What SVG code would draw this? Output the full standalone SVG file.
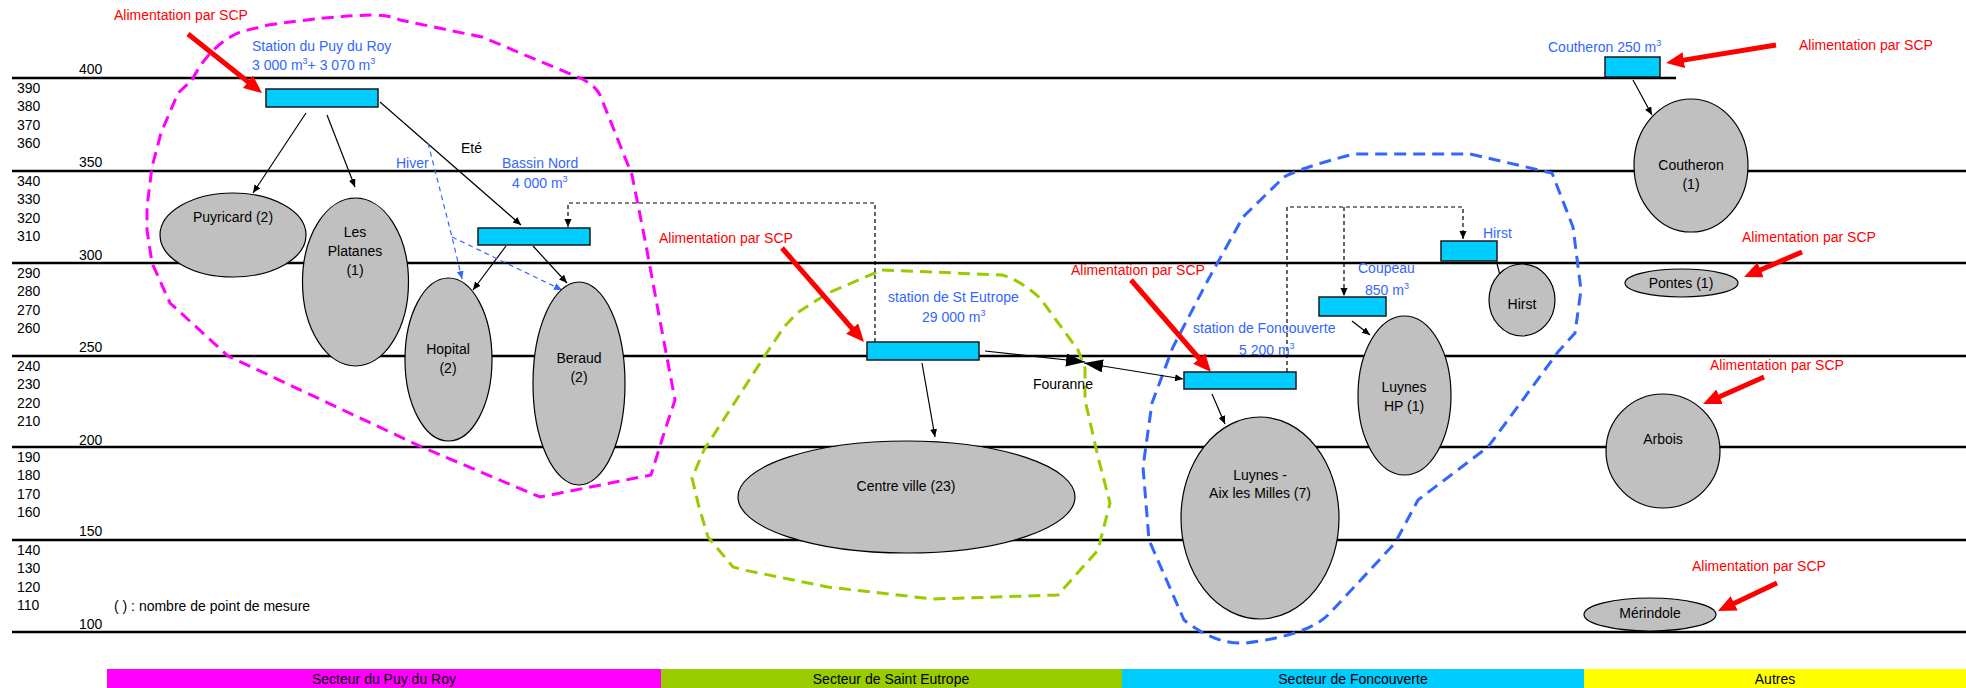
<svg xmlns="http://www.w3.org/2000/svg" width="1966" height="688" viewBox="0 0 1966 688">
<style>
text { font-family: "Liberation Sans", Arial, sans-serif; font-size: 14px; fill: #000; }
.lbl { fill: #3366FF; }
.red { fill: #FF0000; }
.c { text-anchor: middle; }
.lvl { stroke: #000; stroke-width: 2.5; }
ellipse.n { fill: #C0C0C0; stroke: #000; stroke-width: 1.2; }
.box { fill: #00CCFF; stroke: #1a1a1a; stroke-width: 1.5; }
.arr { stroke: #000; stroke-width: 1.2; fill: none; marker-end: url(#ah); }
.darr { stroke: #000; stroke-width: 1.2; fill: none; stroke-dasharray: 4 3; }
.hiver { stroke: #3366FF; stroke-width: 1.2; fill: none; stroke-dasharray: 5 4; marker-end: url(#ahb); }
.scp { stroke: #FF0000; stroke-width: 5; fill: none; marker-end: url(#rh); }
.zone { fill: none; stroke-width: 3; stroke-dasharray: 12 7; }
</style>
<defs>
<marker id="ah" markerUnits="userSpaceOnUse" markerWidth="9" markerHeight="8" refX="8" refY="3.5" orient="auto"><path d="M0,0 L8,3.5 L0,7 z" fill="#000"/></marker>
<marker id="ahb" markerUnits="userSpaceOnUse" markerWidth="9" markerHeight="8" refX="8" refY="3.5" orient="auto"><path d="M0,0 L8,3.5 L0,7 z" fill="#3366FF"/></marker>
<marker id="big" markerUnits="userSpaceOnUse" markerWidth="20" markerHeight="14" refX="19" refY="6.5" orient="auto-start-reverse"><path d="M0,0 L19,6.5 L0,13 z" fill="#000"/></marker>
<marker id="rh" markerUnits="userSpaceOnUse" markerWidth="19" markerHeight="17" refX="8" refY="8" orient="auto"><path d="M0,0 L18,8 L0,16 z" fill="#FF0000"/></marker>
</defs>
<rect width="1966" height="688" fill="#fff"/>

<g id="levels">
<line class="lvl" x1="12" y1="78" x2="1676" y2="78"/>
<line class="lvl" x1="12" y1="171" x2="1966" y2="171"/>
<line class="lvl" x1="12" y1="263" x2="1966" y2="263"/>
<line class="lvl" x1="12" y1="356" x2="1966" y2="356"/>
<line class="lvl" x1="12" y1="447" x2="1966" y2="447"/>
<line class="lvl" x1="12" y1="540" x2="1966" y2="540"/>
<line class="lvl" x1="12" y1="632" x2="1966" y2="632"/>
<text x="79" y="74">400</text>
<text x="17" y="93">390</text><text x="17" y="111">380</text><text x="17" y="130">370</text><text x="17" y="148">360</text><text x="79" y="167">350</text>
<text x="17" y="186">340</text><text x="17" y="204">330</text><text x="17" y="223">320</text><text x="17" y="241">310</text><text x="79" y="260">300</text>
<text x="17" y="278">290</text><text x="17" y="296">280</text><text x="17" y="315">270</text><text x="17" y="333">260</text><text x="79" y="352">250</text>
<text x="17" y="371">240</text><text x="17" y="389">230</text><text x="17" y="408">220</text><text x="17" y="426">210</text><text x="79" y="445">200</text>
<text x="17" y="462">190</text><text x="17" y="480">180</text><text x="17" y="499">170</text><text x="17" y="517">160</text><text x="79" y="536">150</text>
<text x="17" y="555">140</text><text x="17" y="573">130</text><text x="17" y="592">120</text><text x="17" y="610">110</text><text x="79" y="629">100</text>
<text x="114" y="611">( ) : nombre de point de mesure</text>
</g>

<g id="zones">
<path class="zone" stroke="#FF00FF" d="M192,80 Q210,45 240,32 L268,25 Q330,16 372,15 Q390,15 400,20 L482,37 L580,78 Q595,85 600,95 L632,175 L645,240 L658,310 L675,400 L665,430 L651,475 L540,497 L424,448 L228,356 L170,303 L152,263 L147,230 L147,207 L152,167 L161,133 L178,93 Z"/>
<path class="zone" stroke="#99CC00" d="M882,270 L1002,275 Q1020,280 1040,298 L1078,350 L1085,368 L1085,400 L1098,457 L1110,503 L1098,550 L1058,595 L933,599 L828,587 L744,570 L733,567 L708,537 L699,507 L692,478 L704,450 L764,357 L784,327 L797,313 L828,293 Z"/>
<path class="zone" stroke="#3366FF" d="M1284,177 Q1300,168 1354,154 L1470,154 L1552,173 L1573,227 L1581,290 L1575,333 L1558,352 L1488,447 L1418,500 L1395,543 L1330,613 Q1310,635 1246,643 Q1215,645 1184,620 L1149,540 L1143,467 L1152,403 L1173,347 L1208,280 L1243,217 Z"/>
</g>

<g id="connectors">
<line class="arr" x1="306" y1="113" x2="253" y2="193"/>
<line class="arr" x1="327" y1="115" x2="355" y2="187"/>
<line class="arr" x1="380" y1="102" x2="521" y2="225"/>
<line class="arr" x1="506" y1="246" x2="473" y2="290"/>
<line class="arr" x1="533" y1="246" x2="567" y2="283"/>
<line class="arr" x1="922" y1="363" x2="935" y2="437"/>
<line class="arr" x1="1212" y1="394" x2="1225" y2="424"/>
<line class="arr" x1="1352" y1="321" x2="1370" y2="335"/>
<line class="arr" x1="1494" y1="252" x2="1502" y2="283"/>
<line class="arr" x1="1633" y1="80" x2="1652" y2="115"/>
<path class="darr" d="M875,342 V203 H568 V227" marker-end="url(#ah)"/>
<path class="darr" d="M1287,372 V207 H1463 V239" marker-end="url(#ah)"/>
<path class="darr" d="M1344,207 V296" marker-end="url(#ah)"/>
<path class="hiver" d="M428,143 L452,237 L462,279"/>
<path class="hiver" d="M452,237 L562,290"/>
<line x1="985" y1="351" x2="1085" y2="362" stroke="#000" stroke-width="1.2" marker-end="url(#big)"/>
<line x1="1084" y1="363" x2="1183" y2="379" stroke="#000" stroke-width="1.2" marker-start="url(#big)" marker-end="url(#ah)"/>
<text x="1033" y="389">Fouranne</text>
<text x="461" y="153">Eté</text>
<text class="lbl" x="396" y="168">Hiver</text>
</g>

<g id="station-puy-du-roy">
<rect class="box" x="266" y="89" width="112" height="18"/>
<text class="lbl" x="252" y="51">Station du Puy du Roy</text>
<text class="lbl" x="252" y="70">3 000 m<tspan dy="-6" font-size="9">3</tspan><tspan dy="6">+ 3 070 m</tspan><tspan dy="-6" font-size="9">3</tspan></text>
</g>
<g id="bassin-nord">
<rect class="box" x="478" y="228" width="112" height="17"/>
<text class="lbl" x="502" y="168">Bassin Nord</text>
<text class="lbl" x="512" y="188">4 000 m<tspan dy="-6" font-size="9">3</tspan></text>
</g>
<g id="station-st-eutrope">
<rect class="box" x="867" y="342" width="112" height="18"/>
<text class="lbl" x="888" y="302">station de St Eutrope</text>
<text class="lbl" x="922" y="322">29 000 m<tspan dy="-6" font-size="9">3</tspan></text>
</g>
<g id="station-foncouverte">
<rect class="box" x="1184" y="372" width="112" height="17"/>
<text class="lbl" x="1193" y="333">station de Foncouverte</text>
<text class="lbl" x="1239" y="355">5 200 m<tspan dy="-6" font-size="9">3</tspan></text>
</g>
<g id="coupeau">
<rect class="box" x="1319" y="297" width="67" height="19"/>
<text class="lbl" x="1358" y="273">Coupeau</text>
<text class="lbl" x="1365" y="295">850 m<tspan dy="-6" font-size="9">3</tspan></text>
</g>
<g id="hirst-box">
<rect class="box" x="1441" y="241" width="56" height="20"/>
<text class="lbl" x="1483" y="238">Hirst</text>
</g>
<g id="coutheron-box">
<rect class="box" x="1605" y="57" width="55" height="20"/>
<text class="lbl" x="1548" y="52">Coutheron 250 m<tspan dy="-6" font-size="9">3</tspan></text>
</g>

<g id="puyricard"><ellipse class="n" cx="233" cy="235" rx="73" ry="42"/><text class="c" x="233" y="222">Puyricard (2)</text></g>
<g id="les-platanes"><ellipse class="n" cx="355.5" cy="282" rx="53" ry="84"/><text class="c" x="355" y="237">Les</text><text class="c" x="355" y="256">Platanes</text><text class="c" x="355" y="275">(1)</text></g>
<g id="hopital"><ellipse class="n" cx="448.5" cy="359.5" rx="43.5" ry="81.5"/><text class="c" x="448" y="354">Hopital</text><text class="c" x="448" y="373">(2)</text></g>
<g id="beraud"><ellipse class="n" cx="579" cy="383.5" rx="46" ry="101.5"/><text class="c" x="579" y="363">Beraud</text><text class="c" x="579" y="382">(2)</text></g>
<g id="centre-ville"><ellipse class="n" cx="906.5" cy="497" rx="168.5" ry="56"/><text class="c" x="906" y="491">Centre ville (23)</text></g>
<g id="luynes-aix"><ellipse class="n" cx="1260" cy="518" rx="79" ry="101"/><text class="c" x="1260" y="480">Luynes -</text><text class="c" x="1260" y="498">Aix les Milles (7)</text></g>
<g id="luynes-hp"><ellipse class="n" cx="1404.5" cy="395.5" rx="46.5" ry="79.5"/><text class="c" x="1404" y="392">Luynes</text><text class="c" x="1404" y="411">HP (1)</text></g>
<g id="hirst"><ellipse class="n" cx="1522" cy="300" rx="33" ry="36"/><text class="c" x="1522" y="309">Hirst</text></g>
<g id="coutheron"><ellipse class="n" cx="1691" cy="165.5" rx="57" ry="66.5"/><text class="c" x="1691" y="170">Coutheron</text><text class="c" x="1691" y="189">(1)</text></g>
<g id="pontes"><ellipse class="n" cx="1681.5" cy="283" rx="56.5" ry="14"/><text class="c" x="1681" y="288">Pontes (1)</text></g>
<g id="arbois"><ellipse class="n" cx="1663" cy="451" rx="57" ry="57"/><text class="c" x="1663" y="444">Arbois</text></g>
<g id="merindole"><ellipse class="n" cx="1650" cy="614.5" rx="66" ry="16.5"/><text class="c" x="1650" y="618">Mérindole</text></g>

<g id="scp-feeds">
<line class="scp" x1="188" y1="34" x2="254.2" y2="86.8"/>
<text class="red" x="114" y="20">Alimentation par SCP</text>
<line class="scp" x1="782" y1="248" x2="857.4" y2="334.5"/>
<text class="red" x="659" y="243">Alimentation par SCP</text>
<line class="scp" x1="1131" y1="280" x2="1204.4" y2="364.5"/>
<text class="red" x="1071" y="275">Alimentation par SCP</text>
<line class="scp" x1="1776" y1="45" x2="1675.9" y2="61.4"/>
<text class="red" x="1799" y="50">Alimentation par SCP</text>
<line class="scp" x1="1802" y1="252" x2="1753.2" y2="273"/>
<text class="red" x="1742" y="242">Alimentation par SCP</text>
<line class="scp" x1="1764" y1="377" x2="1712.2" y2="400"/>
<text class="red" x="1710" y="370">Alimentation par SCP</text>
<line class="scp" x1="1777" y1="583" x2="1727" y2="606.7"/>
<text class="red" x="1692" y="571">Alimentation par SCP</text>
</g>

<g id="sectors">
<rect x="107" y="669" width="554" height="19" fill="#FF00FF"/>
<rect x="661" y="669" width="461" height="19" fill="#99CC00"/>
<rect x="1122" y="669" width="462" height="19" fill="#00CCFF"/>
<rect x="1584" y="669" width="382" height="19" fill="#FFFF00"/>
<text class="c" x="384" y="684">Secteur du Puy du Roy</text>
<text class="c" x="891" y="684">Secteur de Saint Eutrope</text>
<text class="c" x="1353" y="684">Secteur de Foncouverte</text>
<text class="c" x="1775" y="684">Autres</text>
</g>
</svg>
